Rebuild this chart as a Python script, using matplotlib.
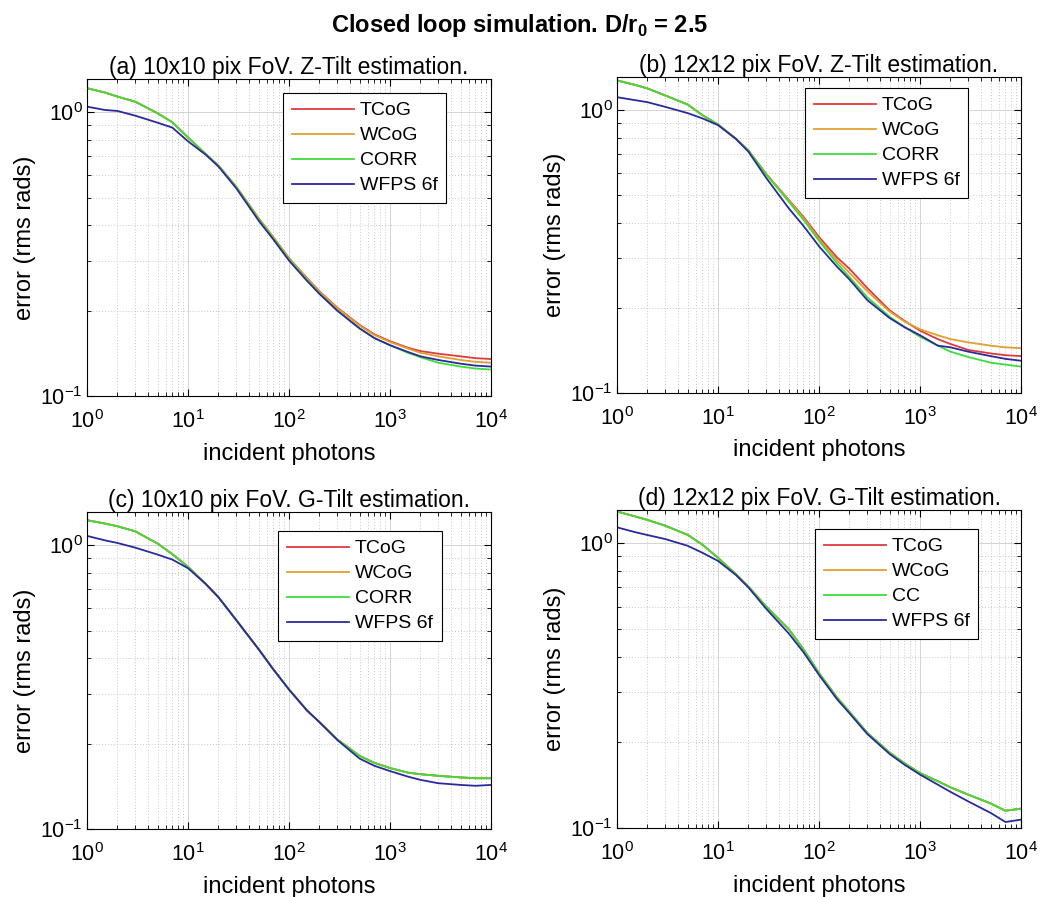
import matplotlib
matplotlib.use("Agg")
import matplotlib.pyplot as plt
from matplotlib.ticker import NullFormatter, LogLocator

plt.rcParams['font.family'] = ['Liberation Sans', 'DejaVu Sans']
plt.rcParams['mathtext.fontset'] = 'custom'
plt.rcParams['mathtext.rm'] = 'Liberation Sans'
plt.rcParams['mathtext.bf'] = 'Liberation Sans:bold'

# incident photons (shared x samples)
photons = [1, 1.5, 2, 3, 5, 7, 10, 15, 20, 30, 50, 70, 100, 150, 200, 300,
           500, 700, 1000, 1500, 2000, 3000, 5000, 7000, 10000]

# (a) 10x10 pix FoV, Z-Tilt
a_tcog = [1.216, 1.174, 1.136, 1.09, 0.992, 0.922, 0.815, 0.712, 0.648, 0.546, 0.423, 0.362, 0.306,
          0.261, 0.234, 0.205, 0.178, 0.165, 0.156, 0.148, 0.144, 0.141, 0.138, 0.136, 0.135]
a_wcog = [1.216, 1.174, 1.136, 1.09, 0.992, 0.922, 0.815, 0.712, 0.649, 0.547, 0.424, 0.363, 0.306,
          0.260, 0.233, 0.204, 0.177, 0.164, 0.155, 0.147, 0.142, 0.138, 0.134, 0.132, 0.131]
a_corr = [1.216, 1.174, 1.136, 1.09, 0.992, 0.922, 0.815, 0.712, 0.648, 0.545, 0.42, 0.36, 0.303,
          0.257, 0.230, 0.200, 0.173, 0.160, 0.151, 0.142, 0.137, 0.131, 0.127, 0.125, 0.124]
a_wfps = [1.047, 1.019, 1.011, 0.973, 0.919, 0.883, 0.79, 0.708, 0.644, 0.54, 0.415, 0.356, 0.300,
          0.255, 0.229, 0.200, 0.173, 0.160, 0.151, 0.143, 0.138, 0.134, 0.130, 0.128, 0.127]

# (b) 12x12 pix FoV, Z-Tilt
b_tcog = [1.273, 1.229, 1.193, 1.127, 1.047, 0.96, 0.89, 0.792, 0.72, 0.595, 0.482, 0.42, 0.356,
          0.302, 0.275, 0.235, 0.196, 0.180, 0.166, 0.155, 0.149, 0.142, 0.138, 0.136, 0.135]
b_wcog = [1.273, 1.229, 1.193, 1.127, 1.047, 0.96, 0.89, 0.792, 0.72, 0.595, 0.48, 0.416, 0.35,
          0.295, 0.266, 0.229, 0.194, 0.179, 0.168, 0.160, 0.155, 0.151, 0.147, 0.145, 0.144]
b_corr = [1.273, 1.229, 1.193, 1.127, 1.047, 0.96, 0.89, 0.792, 0.72, 0.592, 0.475, 0.41, 0.345,
          0.288, 0.257, 0.218, 0.186, 0.171, 0.158, 0.147, 0.140, 0.134, 0.128, 0.126, 0.124]
b_wfps = [1.111, 1.085, 1.067, 1.027, 0.976, 0.935, 0.885, 0.792, 0.713, 0.576, 0.45, 0.39, 0.33,
          0.28, 0.252, 0.213, 0.184, 0.171, 0.160, 0.147, 0.145, 0.140, 0.135, 0.132, 0.130]

# (c) 10x10 pix FoV, G-Tilt
c_tcog = [1.226, 1.193, 1.167, 1.12, 1.014, 0.93, 0.84, 0.73, 0.656, 0.545, 0.43, 0.365, 0.31,
          0.262, 0.238, 0.207, 0.181, 0.171, 0.164, 0.158, 0.156, 0.154, 0.152, 0.151, 0.151]
c_wcog = [1.226, 1.193, 1.167, 1.12, 1.014, 0.93, 0.84, 0.73, 0.656, 0.545, 0.43, 0.365, 0.31,
          0.262, 0.238, 0.207, 0.181, 0.171, 0.164, 0.158, 0.156, 0.154, 0.152, 0.151, 0.151]
c_corr = [1.226, 1.193, 1.167, 1.12, 1.014, 0.93, 0.84, 0.73, 0.656, 0.545, 0.43, 0.365, 0.31,
          0.262, 0.238, 0.207, 0.181, 0.171, 0.164, 0.158, 0.156, 0.154, 0.152, 0.151, 0.151]
c_wfps = [1.079, 1.041, 1.019, 0.981, 0.927, 0.89, 0.83, 0.73, 0.656, 0.545, 0.43, 0.365, 0.31,
          0.262, 0.238, 0.206, 0.177, 0.167, 0.160, 0.153, 0.149, 0.145, 0.143, 0.142, 0.143]

# (d) 12x12 pix FoV, G-Tilt
d_tcog = [1.294, 1.245, 1.209, 1.154, 1.072, 0.99, 0.89, 0.78, 0.705, 0.60, 0.50, 0.425, 0.35,
          0.288, 0.256, 0.216, 0.184, 0.169, 0.156, 0.146, 0.139, 0.131, 0.122, 0.115, 0.117]
d_wcog = [1.294, 1.245, 1.209, 1.154, 1.072, 0.99, 0.89, 0.78, 0.705, 0.60, 0.50, 0.425, 0.35,
          0.288, 0.256, 0.216, 0.184, 0.169, 0.156, 0.146, 0.139, 0.131, 0.122, 0.115, 0.117]
d_corr = [1.294, 1.245, 1.209, 1.154, 1.072, 0.99, 0.89, 0.78, 0.705, 0.60, 0.50, 0.425, 0.35,
          0.288, 0.256, 0.216, 0.184, 0.169, 0.156, 0.146, 0.139, 0.131, 0.122, 0.115, 0.117]
d_wfps = [1.139, 1.096, 1.07, 1.036, 0.981, 0.927, 0.868, 0.775, 0.70, 0.589, 0.483, 0.415, 0.345,
          0.284, 0.253, 0.214, 0.182, 0.167, 0.154, 0.142, 0.134, 0.124, 0.113, 0.105, 0.107]

titles = ['(a) 10x10 pix FoV. Z-Tilt estimation.',
          '(b) 12x12 pix FoV. Z-Tilt estimation.',
          '(c) 10x10 pix FoV. G-Tilt estimation.',
          '(d) 12x12 pix FoV. G-Tilt estimation.']
labels_ab = ['TCoG', 'WCoG', 'CORR', 'WFPS 6f']
labels_d = ['TCoG', 'WCoG', 'CC', 'WFPS 6f']
colors = ['#e03a3a', '#e0a030', '#3ddc3d', '#2a2a9c']

panels = [
    (titles[0], [a_tcog, a_wcog, a_corr, a_wfps], labels_ab, [0.0837, 0.5585, 0.3885, 0.3534], (0.485, 0.956)),
    (titles[1], [b_tcog, b_wcog, b_corr, b_wfps], labels_ab, [0.5933, 0.5619, 0.3885, 0.3523], (0.465, 0.965)),
    (titles[2], [c_tcog, c_wcog, c_corr, c_wfps], labels_ab, [0.0837, 0.0758, 0.3885, 0.3534], (0.473, 0.940)),
    (titles[3], [d_tcog, d_wcog, d_corr, d_wfps], labels_d, [0.5933, 0.0769, 0.3885, 0.3545], (0.490, 0.940)),
]

fig = plt.figure(figsize=(10.4, 8.97), dpi=100)

for title, series, labels, pos, leg_xy in panels:
    ax = fig.add_axes(pos)
    for vals, lab, col in zip(series, labels, colors):
        ax.plot(photons, vals, color=col, lw=1.3, label=lab)
    ax.set_xscale('log')
    ax.set_yscale('log')
    ax.set_xlim(1, 1e4)
    ax.set_ylim(0.1, 1.31)
    ax.xaxis.set_major_locator(LogLocator(base=10, numticks=10))
    ax.xaxis.set_minor_locator(LogLocator(base=10, subs=range(2, 10), numticks=20))
    ax.xaxis.set_minor_formatter(NullFormatter())
    ax.yaxis.set_minor_formatter(NullFormatter())
    ax.grid(which='major', color='#d4d4d4', lw=0.7, ls='-')
    ax.grid(which='minor', color='#c8c8c8', lw=0.7, ls=(0, (1, 2)))
    ax.set_axisbelow(True)
    ax.tick_params(which='both', direction='in', top=True, right=True, labelsize=15.5)
    ax.tick_params(which='major', length=5, width=0.8)
    ax.tick_params(which='minor', length=3, width=0.6)
    ax.tick_params(axis='x', pad=10)
    ax.tick_params(axis='y', pad=3)
    for sp in ax.spines.values():
        sp.set_linewidth(0.8)
    ax.set_title(title, fontsize=16.5, pad=-1)
    ax.set_xlabel('incident photons', fontsize=17, labelpad=7)
    ax.set_ylabel('error (rms rads)', fontsize=17, labelpad=3)
    leg = ax.legend(loc='upper left', bbox_to_anchor=leg_xy, fontsize=14,
                    frameon=True, fancybox=False, framealpha=1, edgecolor='black',
                    handlelength=3.2, handletextpad=0.3, labelspacing=0.38,
                    borderpad=0.45, borderaxespad=0)
    leg.get_frame().set_linewidth(0.8)

fig.text(0.5, 0.972, r'Closed loop simulation. D/r$_{\mathbf{0}}$ = 2.5',
         ha='center', va='center', fontsize=17, fontweight='bold')

fig.savefig('out.png', dpi=100)
